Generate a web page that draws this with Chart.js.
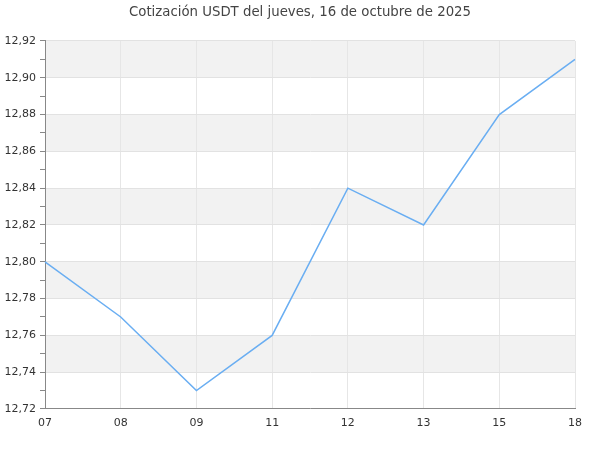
<!DOCTYPE html>
<html>
<head>
<meta charset="utf-8">
<script src="https://cdn.jsdelivr.net/npm/chart.js@4"></script>
<style>
html,body{margin:0;padding:0;background:#fff;}
#wrap{width:600px;height:450px;}
</style>
</head>
<body>
<div id="wrap"><canvas id="c" width="600" height="450"></canvas></div>
<script>
const categories = ['07', '08', '09', '11', '12', '13', '15', '18'];
const usdtValues = [12.80, 12.77, 12.73, 12.76, 12.84, 12.82, 12.88, 12.91];
const yMin = 12.72;
const yMax = 12.92;
const yStep = 0.01;
const titleText = 'Cotización USDT del jueves, 16 de octubre de 2025';

const bandPlugin = {
  id: 'bands',
  beforeDraw(chart) {
    const y = chart.scales.y, area = chart.chartArea, ctx = chart.ctx;
    const t = y.ticks;
    ctx.save();
    ctx.fillStyle = '#f2f2f2';
    for (let j = 0; j + 2 < t.length; j += 2) {
      if ((j / 2) % 2 === 1) {
        const top = y.getPixelForValue(t[j + 2].value);
        const bot = y.getPixelForValue(t[j].value);
        ctx.fillRect(area.left, top, area.right - area.left + 1, bot - top);
      }
    }
    ctx.restore();
  }
};

new Chart(document.getElementById('c'), {
  type: 'line',
  data: {
    labels: categories,
    datasets: [{
      data: usdtValues,
      borderColor: '#6aaef2',
      borderWidth: 1.5,
      pointRadius: 0,
      fill: false,
      tension: 0
    }]
  },
  options: {
    responsive: false,
    animation: false,
    devicePixelRatio: 1,
    layout: { padding: { left: 0, right: 0, top: 0, bottom: 0 } },
    plugins: {
      legend: { display: false },
      tooltip: { enabled: false },
      title: {
        display: true,
        text: titleText,
        color: '#444',
        font: { family: 'DejaVu Sans', size: 13.3, weight: 'normal' },
        padding: { top: 5, bottom: 20 }
      }
    },
    scales: {
      x: {
        offset: false,
        grid: { color: '#e6e6e6', drawTicks: false, tickLength: 0 },
        border: { color: '#888', width: 1 },
        ticks: {
          color: '#333',
          font: { family: 'DejaVu Sans', size: 11 },
          padding: 8,
          maxRotation: 0,
          autoSkip: false
        },
        afterFit(s) { s.height = 41; }
      },
      y: {
        min: yMin,
        max: yMax,
        grid: {
          color: (c) => (c.index % 2 === 0 ? '#e2e2e2' : 'rgba(0,0,0,0)'),
          tickColor: '#888',
          tickLength: 5
        },
        border: { color: '#888', width: 1 },
        ticks: {
          stepSize: yStep,
          autoSkip: false,
          color: '#333',
          padding: 4,
          font: { family: 'DejaVu Sans', size: 11 },
          callback: (v, i) => (i % 2 === 0 ? Number(v).toFixed(2).replace('.', ',') : '')
        },
        afterFit(s) { s.width = 45; }
      },
      yr: {
        position: 'right',
        display: true,
        min: yMin,
        max: yMax,
        grid: { display: false, drawTicks: false },
        border: { display: false },
        ticks: { display: false },
        afterFit(s) { s.width = 25; }
      }
    }
  },
  plugins: [bandPlugin]
});
</script>
</body>
</html>
